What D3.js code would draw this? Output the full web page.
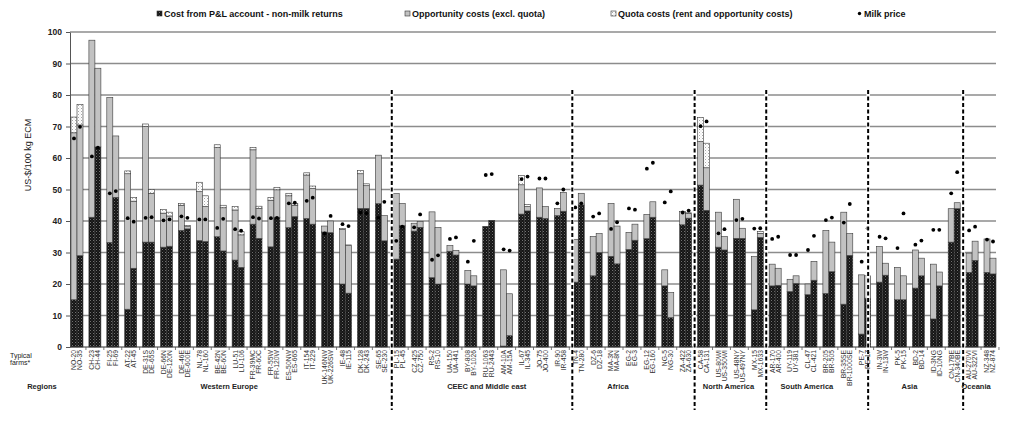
<!DOCTYPE html>
<html><head><meta charset="utf-8">
<script src="https://cdn.jsdelivr.net/npm/d3@7"></script>
<style>body{margin:0;background:#fff}svg{display:block}</style>
</head><body><svg id="c" width="1024" height="427"></svg>
<script>
// ---------------- DATA ----------------
const farms = ["NO-20","NO-35","CH-23","CH-44","FI-25","FI-69","AT-22","AT-45","DE-31S","DE-65S","DE-66N","DE-120N","DE-46E","DE-600E","NL-78","NL-160","BE-42N","BE-60N","LU-51","LU-106","FR-39MC","FR-60C","FR-55W","FR-120W","ES-50NW","ES-665","IT-154","IT-229","UK-146NW","UK-226SW","IE-48","IE-115","DK-128","DK-243","SE-65","SE-230",
"PL-15","PL-45","CZ-425","CZ-750","RS-2","RS-10","UA-150","UA-441","BY-808","BY-1026","RU-1063","RU-2443","AM-10A","AM-15A","IL-67","IL-345","JO-75","JO-400","IR-90","IR-458",
"TN-4","TN-280","DZ-6","DZ-18","MA-3N","MA-8N","EG-2","EG-3","EG-12","EG-160","NG-5","NG-30","ZA-422","ZA-630",
"CA-58","CA-131","US-80WI","US-350WI","US-48NY","US-497NY","MX-15","MX-1633",
"AR-170","AR-400","UY-119","UY-381","CL-47","CL-421","BR-205","BR-505","BR-35SE","BR-1000SE","PE-7","PE-17",
"IN-3W","IN-13W","PK-5","PK-15","BD-2","BD-14","ID-3NG","ID-10NG","CN-17BE","CN-340BE",
"AU-270VI","AU-322VI","NZ-348","NZ-874"];

const costPL = [15,29,41.2,63.5,33.2,47.5,12,25,33.3,33.3,31.7,32,37,37.5,33.8,33.5,35,30.5,27.6,25.3,39,34.5,31.8,41.2,37.9,41.4,40.8,39,36.5,36.3,20,17.1,44,44,45.5,33.7,
27.9,38.5,36.8,38,22,20,30.4,29.2,20,19.4,38.3,40.2,0.3,3.6,42.2,43.2,41.2,40.8,41.7,43.1,
20.6,45.1,22.6,30,28.8,26.4,31,33.9,34.4,41.2,19.4,9.3,38.8,40.9,
51.4,43.4,31.7,30.8,34.5,34.5,11.8,34.8,
19.4,19.6,17.6,20.2,16.6,21.2,17,23.9,13.6,29.1,4.1,15.5,
20.6,22.8,15,15,18.7,22.6,8.9,19.4,33.3,43.9,
23.7,27.5,23.7,23.2];

const oppCost = [53,41.5,56.2,25,46,19.5,43,21.3,36.7,15.5,10.8,9.6,8,0.7,15.5,11.1,28.3,13.7,15.9,10.3,23.6,9.5,14.8,8.7,10.1,3.6,13.8,11.3,1.9,3.7,17.3,15.1,11,7.2,15.4,8,
20.8,7.1,2.5,1.8,20.9,18,1.8,1.5,4.3,3.2,0,0,24.2,13.3,9.3,1.4,9.3,3.8,2.3,6,
13.6,3.7,12.5,6,16.8,12,5.4,5.1,7.7,4.9,5.1,8,4.2,1.5,
13.8,13.5,11.1,4.3,12.4,3.2,16.9,1.3,
6.9,5.4,3.9,2.4,3.4,6,20,9.4,29.2,6.9,18.8,7.1,
11.3,3.8,10.3,7.6,12.1,5.6,17.4,4.4,10.6,1.9,
6.1,6.1,10.6,5];

const quotaCost = [5,6.5,0,0,0,0,0.9,1.1,0.8,1.2,1.1,1.2,0.5,0.4,3,3.4,0.9,0.8,1.1,1,0.7,0.7,0.8,0.8,0.8,0.6,0.7,0.8,0,0,0.3,0.2,1,0.6,0,0,
0,0,0,0,0,0,0,0,0,0,0,0,0,0,3,0.6,0,0,0,0,
0,0,0,0,0,0,0,0,0,0,0,0,0,0.2,
7.7,7.8,0,0,0,0,0,0.6,
0,0,0,0,0,0,0,0,0,0,0,0,
0,0,0,0,0,0,0,0,0,0,
0,0,0,0];

const milkPrice = [66.2,69.9,60.5,63.3,48.8,49.5,40.9,39.8,41,41.2,40.2,40.5,41.5,41,40.5,40.5,37.8,40.7,37.4,36.9,41.2,40.8,40.9,41,45.6,45.8,46.4,47.4,36.1,41.6,39,38.4,42.7,42.5,41,46.1,
33.7,38.2,38,42.1,27.7,29.1,34.3,34.8,27.1,33.7,54.6,54.9,31,30.6,53.3,54.1,53.5,53.5,45.6,50,
44.3,45.6,41.4,42.4,37.5,39.6,44,43.6,56.6,58.5,45.9,49.4,42.7,43.3,
70.1,71.6,36.1,37.4,40.3,40.7,37.6,37.7,
34.3,35,29.2,29.2,30.8,35.3,40.3,41.1,39.5,45.4,27.1,37.7,
35,34.5,31.4,42.4,32.5,33.8,37.2,37.2,48.8,55.5,
37,38.2,34.1,33.5];

const regions = ["Western Europe","CEEC and Middle east","Africa","North America","South America","Asia","Oceania"];
const regionPairs = [18,10,7,4,6,5,2];
const yTicks = [0,10,20,30,40,50,60,70,80,90,100];
const seriesNames = ["Cost from P&L account - non-milk returns","Opportunity costs (excl. quota)","Quota costs (rent and opportunity costs)","Milk price"];

// ---------------- LAYOUT ----------------
const L = {left:70, right:996, top:32, bottom:347};
const sepOffset = [1.5, 3, 0, 0, -5.5, 0];
const regionLabelOffset = [0, 7, -14, -2, -13, -9, -5];
const legendX = [157, 405, 611, 857];
const narrow = "'Liberation Sans Narrow','Arial Narrow','Liberation Sans',Arial,sans-serif";
const sans = "'Liberation Sans',Arial,sans-serif";

const svg = d3.select("#c");
const defs = svg.append("defs");
// dark cross-hatched pattern
const pd = defs.append("pattern").attr("id","pDark").attr("patternUnits","userSpaceOnUse").attr("width",3).attr("height",3);
pd.append("rect").attr("width",3).attr("height",3).attr("fill","#151515");
pd.append("rect").attr("x",0).attr("y",0).attr("width",1).attr("height",1).attr("fill","#707070");
pd.append("rect").attr("x",1.5).attr("y",1.5).attr("width",1).attr("height",1).attr("fill","#444");
// quota dotted pattern
const pq = defs.append("pattern").attr("id","pQuota").attr("patternUnits","userSpaceOnUse").attr("width",3).attr("height",3);
pq.append("rect").attr("width",3).attr("height",3).attr("fill","#fff");
pq.append("rect").attr("x",0).attr("y",0).attr("width",1).attr("height",1).attr("fill","#a8a8a8");
pq.append("rect").attr("x",1.5).attr("y",1.5).attr("width",1).attr("height",1).attr("fill","#cfcfcf");

const y = d3.scaleLinear([0,100],[L.bottom,L.top]);
const pairIdx = d3.range(farms.length/2);
const xPair = d3.scaleBand(pairIdx,[71, L.right]).paddingInner(0.33).paddingOuter(0);
const xSub = d3.scaleBand([0,1],[0,xPair.bandwidth()]);
const barX = i => xPair(Math.floor(i/2)) + xSub(i%2);
const bw = xSub.bandwidth();

// gridlines
svg.append("g").selectAll("line").data(yTicks.filter(t=>t>0)).join("line")
  .attr("x1",L.left).attr("x2",L.right).attr("y1",d=>y(d)).attr("y2",d=>y(d))
  .attr("stroke","#8c8c8c").attr("stroke-width",1.4);

// y axis
const ya = svg.append("g").attr("transform",`translate(${L.left},0)`)
  .call(d3.axisLeft(y).tickValues(yTicks).tickSize(4).tickSizeOuter(0));
ya.select(".domain").attr("stroke","#555");
ya.selectAll(".tick line").attr("stroke","#555");
ya.selectAll("text").attr("font-family",sans).attr("font-size",8.5).attr("font-weight","bold").attr("fill","#222").attr("dx",-1);

// bars
const data = farms.map((f,i)=>({f,i,c:costPL[i],o:oppCost[i],q:quotaCost[i],m:milkPrice[i]}));
const gb = svg.append("g");
data.forEach(d=>{
  const x = barX(d.i);
  const segs = [[0,d.c,"url(#pDark)"],[d.c,d.c+d.o,"#c2c2c2"],[d.c+d.o,d.c+d.o+d.q,"url(#pQuota)"]];
  segs.forEach(s=>{
    if(s[1]-s[0] <= 0) return;
    gb.append("rect").attr("x",x).attr("width",bw).attr("y",y(s[1])).attr("height",y(s[0])-y(s[1]))
      .attr("fill",s[2]).attr("stroke","#3a3a3a").attr("stroke-width",0.6);
  });
});

// x axis line and ticks between pairs
svg.append("line").attr("x1",L.left).attr("x2",L.right).attr("y1",y(0)).attr("y2",y(0)).attr("stroke","#333").attr("stroke-width",1);
const gap = xPair.step()-xPair.bandwidth();
svg.append("g").selectAll("line").data(pairIdx).join("line")
  .attr("x1",d=>xPair(d)+xPair.bandwidth()+gap/2).attr("x2",d=>xPair(d)+xPair.bandwidth()+gap/2)
  .attr("y1",y(0)).attr("y2",y(0)+3).attr("stroke","#555").attr("stroke-width",0.8);

// milk price dots
svg.append("g").selectAll("circle").data(data).join("circle")
  .attr("cx",d=>barX(d.i)+bw/2).attr("cy",d=>y(d.m)).attr("r",1.9).attr("fill","#000");

// separators
let cum = 0;
const sepX = [];
regionPairs.forEach((n,r)=>{ if(r>0) sepX.push(xPair(cum) - gap/2 + sepOffset[r-1]); cum += n; });
const gs = svg.append("g");
gs.selectAll("line.w").data(sepX).join("line").attr("class","w")
  .attr("x1",d=>d).attr("x2",d=>d).attr("y1",90).attr("y2",410).attr("stroke","#fff").attr("stroke-width",3.5);
gs.selectAll("line.b").data(sepX).join("line").attr("class","b")
  .attr("x1",d=>d).attr("x2",d=>d).attr("y1",90).attr("y2",410).attr("stroke","#000").attr("stroke-width",2).attr("stroke-dasharray","4,2.5");

// farm labels
svg.append("g").selectAll("text").data(data).join("text")
  .attr("transform",d=>`translate(${barX(d.i)+bw/2},350) rotate(-90)`)
  .attr("text-anchor","end").attr("dy","0.35em")
  .attr("font-family",sans).attr("font-size",6.8).attr("fill","#333").text(d=>d.f);

// region labels
cum = 0;
const regData = regionPairs.map((n,r)=>{ const a = xPair(cum), b = xPair(cum+n-1)+xPair.bandwidth(); cum+=n; return {name:regions[r], x:(a+b)/2 + regionLabelOffset[r]}; });
svg.append("g").selectAll("text").data(regData).join("text")
  .attr("x",d=>d.x).attr("y",389).attr("text-anchor","middle")
  .attr("font-family",sans).attr("font-size",7.5).attr("font-weight","bold").attr("fill","#222").text(d=>d.name);

svg.append("text").attr("x",42).attr("y",389).attr("text-anchor","middle")
  .attr("font-family",sans).attr("font-size",7.5).attr("font-weight","bold").attr("fill","#222").text("Regions");
svg.append("text").attr("x",10).attr("y",358).attr("font-family",narrow).attr("font-size",7).attr("fill","#222").text("Typical");
svg.append("text").attr("x",10).attr("y",365).attr("font-family",narrow).attr("font-size",7).attr("fill","#222").text("farms*");

// y title
svg.append("text").attr("transform","translate(31,155) rotate(-90)").attr("text-anchor","middle")
  .attr("font-family",sans).attr("font-size",9).attr("fill","#222").text("US-$/100 kg ECM");

// legend
const lg = svg.append("g").attr("font-family",narrow).attr("font-size",9).attr("font-weight","bold").attr("fill","#111");
const swFill = ["url(#pDark)","#c2c2c2","url(#pQuota)"];
seriesNames.forEach((s,k)=>{
  const x0 = legendX[k];
  if(k<3){
    lg.append("rect").attr("x",x0).attr("y",11).attr("width",5).attr("height",5).attr("fill",swFill[k]).attr("stroke","#333").attr("stroke-width",0.6);
  } else {
    lg.append("circle").attr("cx",x0+2.5).attr("cy",13.5).attr("r",1.7).attr("fill","#000");
  }
  lg.append("text").attr("x",x0+7).attr("y",17).text(s);
});
</script></body></html>
